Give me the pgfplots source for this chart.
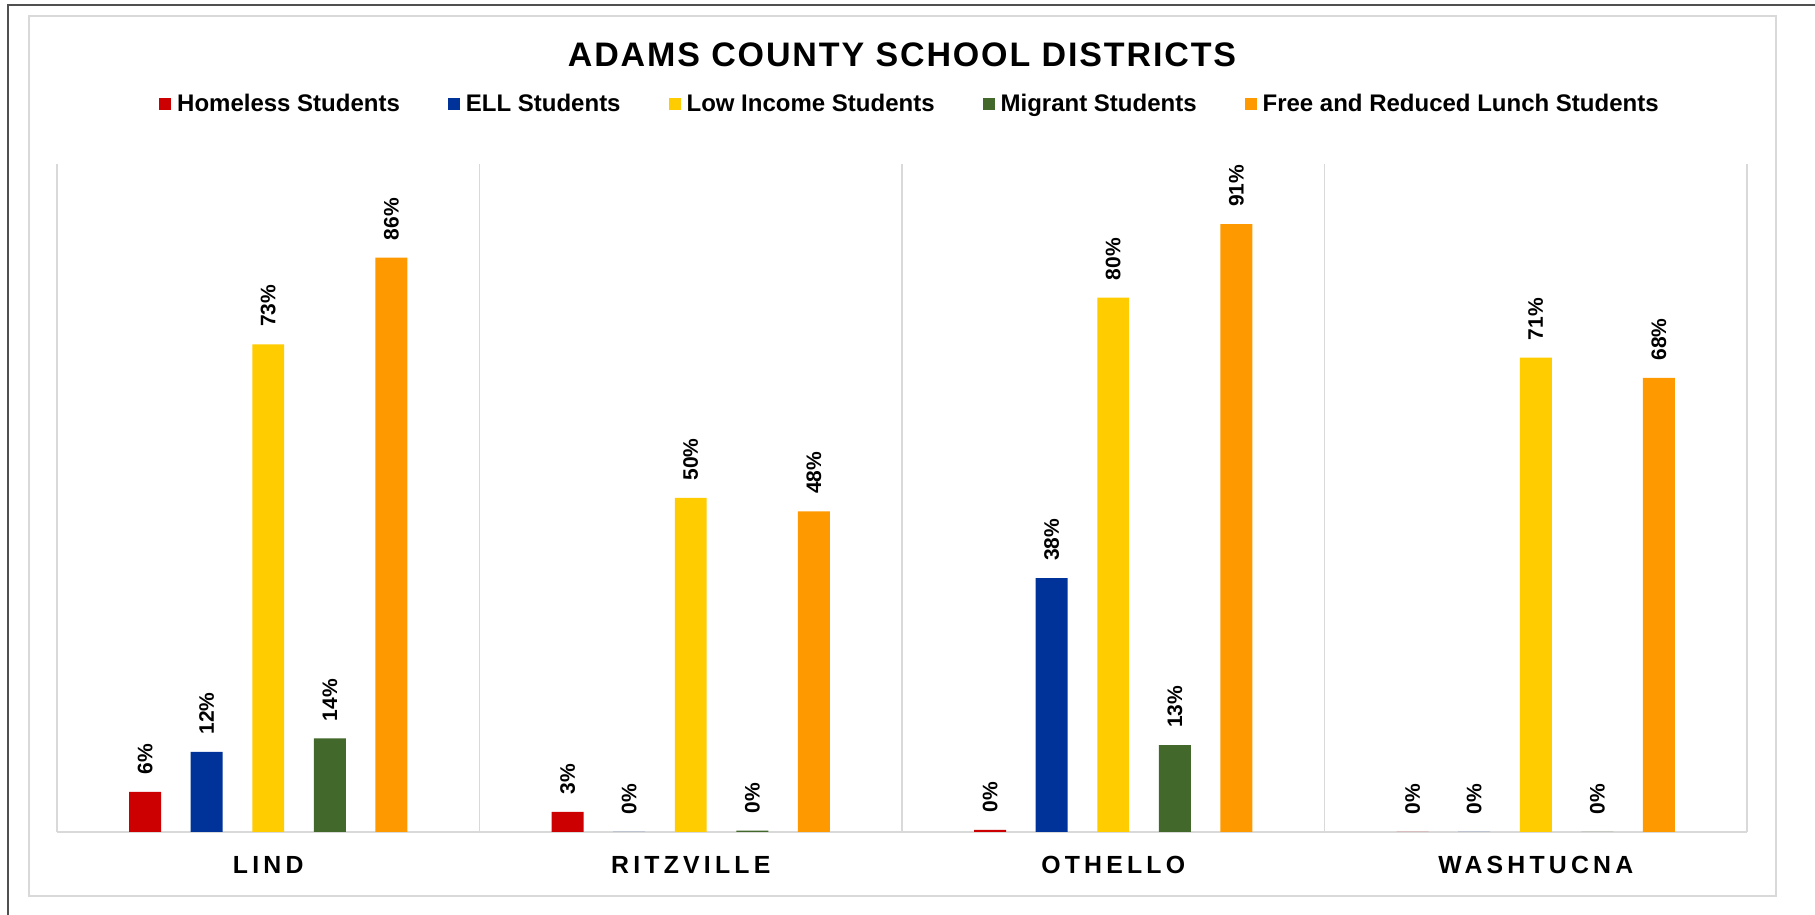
\documentclass[border=0pt]{standalone}
\usepackage{fontspec}
\setmainfont{Liberation Sans}
\newfontfamily\titlefont[LetterSpace=5.5]{Liberation Sans}
\newfontfamily\catfont[LetterSpace=17]{Liberation Sans}
\usepackage{pgfplots}
\pgfplotsset{compat=1.18}
\definecolor{cRed}{HTML}{CC0000}
\definecolor{cBlue}{HTML}{003399}
\definecolor{cYellow}{HTML}{FFCC00}
\definecolor{cGreen}{HTML}{43682B}
\definecolor{cOrange}{HTML}{FF9900}
\definecolor{frameGray}{HTML}{505050}
\definecolor{lineGray}{HTML}{D9D9D9}
\begin{document}
\begin{tikzpicture}
\path[use as bounding box] (0,0) rectangle (907.5pt,457.5pt);
\fill[white] (0,0) rectangle (907.5pt,457.5pt);
\draw[color=frameGray, line width=1pt] (4pt,-2pt) -- (4pt,455pt) -- (910pt,455pt);
\draw[color=lineGray, line width=0.8pt] (14.5pt,9.5pt) rectangle (888pt,449.5pt);
\begin{axis}[
  at={(28.5pt,41.5pt)}, anchor=south west,
  width=845pt, height=334pt, scale only axis,
  xmin=-0.5, xmax=3.5, ymin=0, ymax=100,
  ybar,
  bar width=0.0757,
  axis line style={draw=none},
  xtick={0,1,2,3},
  xticklabels={LIND,RITZVILLE,OTHELLO,WASHTUCNA},
  minor xtick={-0.5,0.5,1.5,2.5,3.5},
  xminorgrids=true,
  minor grid style={draw=lineGray, line width=0.8pt},
  ytick=\empty,
  extra y ticks={0},
  extra y tick labels={},
  extra y tick style={grid=major, major grid style={draw=lineGray, line width=1pt}, tick style={draw=none}},
  tick style={draw=none},
  major tick length=0pt, minor tick length=0pt,
  xticklabel style={anchor=north, inner sep=0pt, yshift=-12pt, font=\catfont\bfseries\fontsize{12.4}{14}\selectfont},
  /pgf/number format/assume math mode=true,
  nodes near coords={\pgfmathprintnumber[fixed,precision=0,assume math mode=true]{\pgfplotspointmeta}\%},
  every node near coord/.append style={rotate=90, anchor=west, inner xsep=8.5pt, inner ysep=0pt, font=\bfseries\fontsize{10.5}{12}\selectfont, text=black},
  legend columns=5,
  legend image code/.code={\fill[#1] (0pt,-3.2pt) rectangle (6pt,3.2pt);},
  legend style={at={(0.5041,1.0898)}, anchor=center, draw=none, fill=none,
    font=\bfseries\fontsize{12}{14}\selectfont,
    nodes={inner sep=0pt},
    /tikz/every odd column/.append style={column sep=3pt},
    /tikz/every even column/.append style={column sep=24pt}},
]
\addplot[fill=cRed, draw=none, bar shift=-0.2916] coordinates {(0,6) (1,3) (2,0.3) (3,0)};
\addplot[fill=cBlue, draw=none, bar shift=-0.1458] coordinates {(0,12) (1,0) (2,38) (3,0)};
\addplot[fill=cYellow, draw=none, bar shift=0] coordinates {(0,73) (1,50) (2,80) (3,71)};
\addplot[fill=cGreen, draw=none, bar shift=0.1458] coordinates {(0,14) (1,0.2) (2,13) (3,0)};
\addplot[fill=cOrange, draw=none, bar shift=0.2916] coordinates {(0,86) (1,48) (2,91) (3,68)};
\legend{Homeless Students, ELL Students, Low Income Students, Migrant Students, Free and Reduced Lunch Students}
\end{axis}
\node[font=\titlefont\bfseries\fontsize{17}{20}\selectfont, inner sep=0pt] at (451pt,430.25pt) {ADAMS COUNTY SCHOOL DISTRICTS};
\end{tikzpicture}
\end{document}
